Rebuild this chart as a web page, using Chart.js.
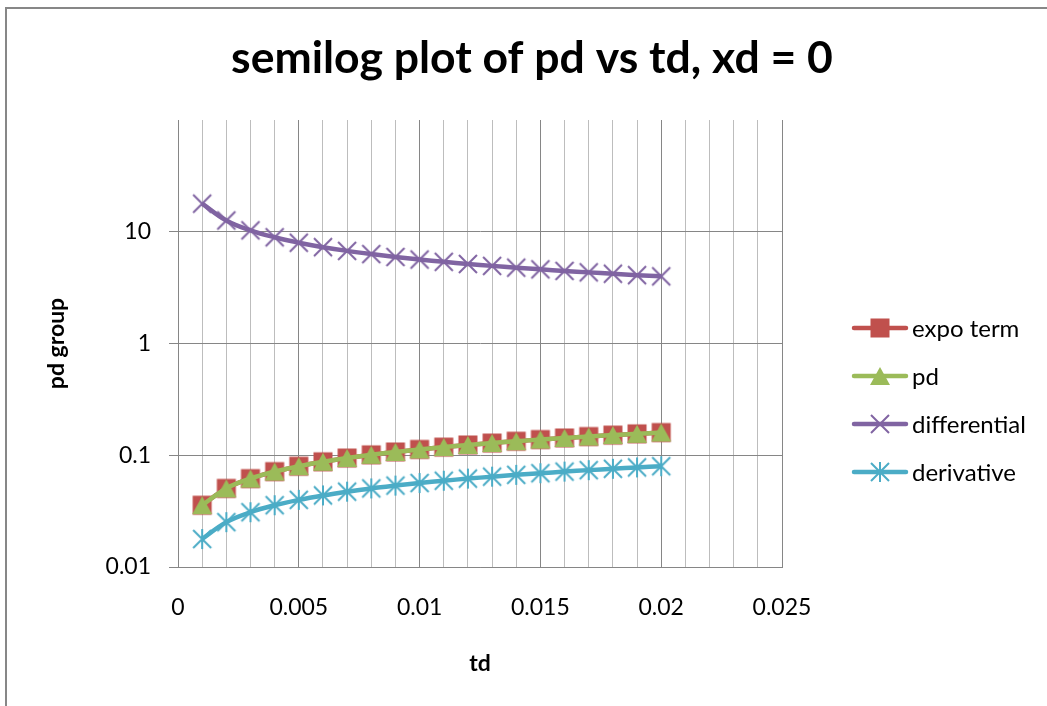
<!DOCTYPE html>
<html>
<head>
<meta charset="utf-8">
<script src="https://cdn.jsdelivr.net/npm/chart.js@4/dist/chart.umd.min.js"></script>
<style>
  html, body { margin: 0; padding: 0; background: #fff; }
  #wrap { width: 1047px; height: 706px; position: relative; }
</style>
</head>
<body>
<div id="wrap"><canvas id="myChart"></canvas></div>
<script>
// values
const td = [0.001, 0.002, 0.003, 0.004, 0.005, 0.006, 0.007, 0.008, 0.009, 0.010,
            0.011, 0.012, 0.013, 0.014, 0.015, 0.016, 0.017, 0.018, 0.019, 0.020];
const expoTerm = [0.0357, 0.0505, 0.0618, 0.0714, 0.0798, 0.0874, 0.0944, 0.1009, 0.1070, 0.1128,
                  0.1183, 0.1236, 0.1287, 0.1335, 0.1382, 0.1427, 0.1471, 0.1514, 0.1555, 0.1596];
const pd = [0.0357, 0.0505, 0.0618, 0.0714, 0.0798, 0.0874, 0.0944, 0.1009, 0.1070, 0.1128,
            0.1183, 0.1236, 0.1287, 0.1335, 0.1382, 0.1427, 0.1471, 0.1514, 0.1555, 0.1596];
const differential = [17.84, 12.62, 10.30, 8.92, 7.98, 7.28, 6.74, 6.31, 5.95, 5.64,
                      5.38, 5.15, 4.95, 4.77, 4.61, 4.46, 4.33, 4.21, 4.09, 3.99];
const derivative = [0.0178, 0.0252, 0.0309, 0.0357, 0.0399, 0.0437, 0.0472, 0.0505, 0.0535, 0.0564,
                    0.0592, 0.0618, 0.0643, 0.0668, 0.0691, 0.0714, 0.0736, 0.0757, 0.0778, 0.0798];
const seriesNames = ['expo term', 'pd', 'differential', 'derivative'];
const xTickLabels = ['0', '0.005', '0.01', '0.015', '0.02', '0.025'];
const yTickValues = [0.01, 0.1, 1, 10, 100];
const yTickLabels = ['0.01', '0.1', '1', '10', ''];

const titleText = 'semilog plot of pd vs td, xd = 0';
const FONT = 'Lato, "Liberation Sans", sans-serif';
Chart.defaults.font.family = FONT;
Chart.defaults.color = '#000';

// excel-like markers drawn once on small canvases
function makeMarker(kind, color) {
  const c = document.createElement('canvas');
  c.width = 22; c.height = 22;
  const g = c.getContext('2d');
  g.fillStyle = color; g.strokeStyle = color; g.lineWidth = 2;
  if (kind === 'square') {
    g.fillRect(1.5, 1.5, 19, 19);
  } else if (kind === 'triangle') {
    g.beginPath(); g.moveTo(11, 2); g.lineTo(21, 20); g.lineTo(1, 20); g.closePath(); g.fill();
  } else {
    g.beginPath();
    g.moveTo(2, 2); g.lineTo(20, 20);
    g.moveTo(20, 2); g.lineTo(2, 20);
    if (kind === 'star') { g.moveTo(11, 1); g.lineTo(11, 21); }
    g.stroke();
  }
  return c;
}

const colors = ['#C0504D', '#9BBB59', '#8064A2', '#4BACC6'];
const markers = [
  makeMarker('square', colors[0]),
  makeMarker('triangle', colors[1]),
  makeMarker('x', colors[2]),
  makeMarker('star', colors[3])
];
const seriesData = [expoTerm, pd, differential, derivative];

function ds(i) {
  return {
    label: seriesNames[i],
    data: td.map((t, k) => ({x: t, y: seriesData[i][k]})),
    borderColor: colors[i],
    backgroundColor: colors[i],
    borderWidth: 4.5,
    tension: 0.4,
    pointStyle: markers[i],
    pointRadius: 10,
    pointHoverRadius: 10,
    order: 4 - i
  };
}

const extras = {
  id: 'extras',
  afterDraw(chart) {
    const c = chart.ctx;
    c.save();
    // outer frame
    c.strokeStyle = '#878787';
    c.lineWidth = 2;
    c.beginPath();
    c.moveTo(6, 706); c.lineTo(6, 8); c.lineTo(1047, 8);
    c.stroke();
    // title
    c.fillStyle = '#000';
    c.font = 'bold 44.5px ' + FONT;
    c.textAlign = 'center';
    c.textBaseline = 'alphabetic';
    c.fillText(titleText, 532, 73);
    // legend
    const rows = [328, 376, 424, 472];
    c.font = '24px ' + FONT;
    c.textAlign = 'left';
    c.textBaseline = 'middle';
    chart.data.datasets.forEach((d, i) => {
      const y = rows[i];
      c.strokeStyle = colors[i];
      c.lineWidth = 4.5;
      c.lineCap = 'round';
      c.beginPath(); c.moveTo(854, y); c.lineTo(906, y); c.stroke();
      c.drawImage(markers[i], 880 - 11, y - 11);
      c.fillStyle = '#000';
      c.fillText(d.label, 912, y + 1);
    });
    c.restore();
  }
};

const ctx = document.getElementById('myChart').getContext('2d');
const myChart = new Chart(ctx, {
  type: 'line',
  data: { datasets: [ds(0), ds(1), ds(2), ds(3)] },
  options: {
    responsive: true,
    maintainAspectRatio: false,
    devicePixelRatio: 1,
    animation: false,
    layout: { padding: { left: 0, top: 120, right: 265, bottom: 0 } },
    plugins: { legend: { display: false }, title: { display: false }, tooltip: { enabled: false } },
    scales: {
      x: {
        type: 'linear',
        min: 0,
        max: 0.025,
        afterFit: s => { s.height = 139; },
        afterBuildTicks: s => {
          const t = [];
          for (let i = 0; i <= 25; i++) t.push({ value: i / 1000 });
          s.ticks = t;
        },
        ticks: {
          autoSkip: false,
          maxRotation: 0,
          padding: 27,
          font: { size: 23 },
          color: '#000',
          callback: v => {
            const k = Math.round(v * 1000);
            return k % 5 === 0 ? xTickLabels[k / 5] : '';
          }
        },
        grid: {
          drawTicks: false,
          color: c => (c.tick && Math.round(c.tick.value * 1000) % 5 === 0) ? '#868686' : '#BDBDBD'
        },
        border: { color: '#868686' },
        title: { display: true, text: 'td', font: { size: 23, weight: 'bold' }, padding: { top: 0, bottom: 29 } }
      },
      y: {
        type: 'logarithmic',
        min: 0.01,
        max: 100,
        afterFit: s => { s.width = 178; },
        afterBuildTicks: s => { s.ticks = yTickValues.map(v => ({ value: v })); },
        ticks: {
          padding: 18,
          font: { size: 23 },
          color: '#000',
          callback: v => {
            const i = yTickValues.findIndex(t => Math.abs(t - v) / t < 1e-6);
            return i >= 0 ? yTickLabels[i] : '';
          }
        },
        grid: {
          tickLength: 9,
          color: c => (c.tick && c.tick.value >= 100) ? 'rgba(0,0,0,0)' : '#868686'
        },
        border: { color: '#868686' },
        title: { display: true, text: 'pd group', font: { size: 23, weight: 'bold' }, padding: { top: 43, bottom: 0 } }
      }
    }
  },
  plugins: [extras]
});
</script>
</body>
</html>
